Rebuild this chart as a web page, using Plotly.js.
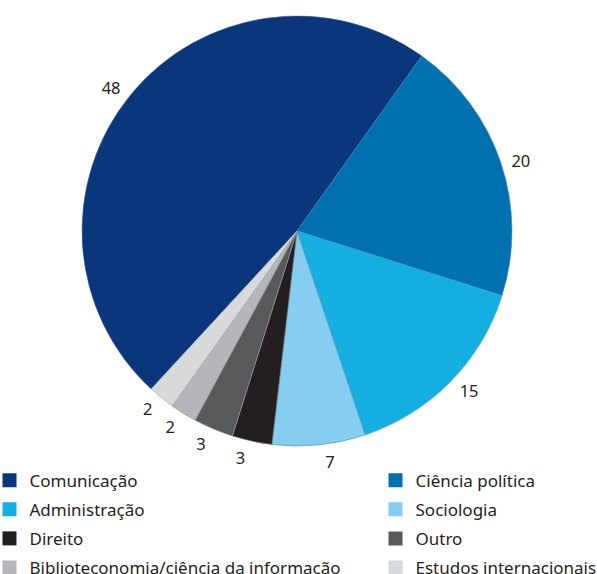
<!DOCTYPE html>
<html>
<head>
<meta charset="utf-8">
<script src="https://cdn.plot.ly/plotly-3.0.1.min.js"></script>
<style>html,body{margin:0;padding:0;background:#fff;}#chart{width:597px;height:574px;}</style>
</head>
<body>
<div id="chart"></div>
<script>
const categories = ["Comunicação", "Ciência política", "Administração", "Sociologia", "Direito", "Outro", "Biblioteconomia/ciência da informação", "Estudos internacionais"];
const values = [48, 20, 15, 7, 3, 3, 2, 2];
const colors = ["#0a367b", "#0070ae", "#14aee0", "#86ceef", "#231f20", "#58595b", "#b5b6b9", "#d8d9da"];
const lineColors = ["#3a5f99", "#3a8fc8", "#3a9fd0", "#3a8fc8", "#888888", "#999999", "#888888", "#aaaaaa"];
// which value labels each label layer shows (split so small-slice labels never collide)
const labelLayerA = [true, true, true, true, false, true, false, true];
const labelLayerB = [false, false, false, false, true, false, true, false];

const FONT = "Noto Sans, sans-serif";
const ROT = -137.3;
const pieDomain = {x: [0.1374, 0.8576], y: [0.2230, 0.9721]};
const labelDomain = {x: [0.12898, 0.86600], y: [0.21429, 0.98084]};

const mainPie = {
  type: "pie",
  labels: categories,
  values: values,
  sort: false,
  direction: "clockwise",
  rotation: ROT,
  marker: {colors: colors, line: {color: lineColors, width: 0.6}},
  textinfo: "none",
  showlegend: false,
  hoverinfo: "label+value",
  domain: pieDomain
};

function labelLayer(mask) {
  return {
    type: "pie",
    labels: categories,
    values: values,
    sort: false,
    direction: "clockwise",
    rotation: ROT,
    marker: {colors: categories.map(() => "rgba(0,0,0,0)"), line: {width: 0}},
    textinfo: "value",
    textposition: mask.map(m => m ? "outside" : "none"),
    outsidetextfont: {family: FONT, size: 16.5, color: "#231f20"},
    showlegend: false,
    hoverinfo: "skip",
    domain: labelDomain
  };
}

const legendTraces = categories.map((c, i) => ({
  type: "scatter",
  mode: "markers",
  x: [null],
  y: [null],
  name: c,
  legendgroup: "g" + i,
  legend: i % 2 === 0 ? "legend" : "legend2",
  marker: {symbol: "square", size: 14, color: colors[i], line: {width: 0}},
  hoverinfo: "skip"
}));

const legendCommon = {
  orientation: "v",
  yanchor: "top",
  xanchor: "left",
  font: {family: FONT, size: 17, color: "#231f20"},
  traceorder: "grouped",
  tracegroupgap: 4,
  bgcolor: "rgba(0,0,0,0)",
  itemclick: false
};

const layout = {
  width: 597,
  height: 574,
  margin: {l: 0, r: 0, t: 0, b: 0, autoexpand: false},
  paper_bgcolor: "#ffffff",
  plot_bgcolor: "rgba(0,0,0,0)",
  showlegend: true,
  font: {family: FONT, color: "#231f20"},
  xaxis: {visible: false},
  yaxis: {visible: false},
  legend: Object.assign({}, legendCommon, {x: -0.0176, y: 0.194}),
  legend2: Object.assign({}, legendCommon, {x: 0.629, y: 0.194})
};

Plotly.newPlot("chart", [mainPie, labelLayer(labelLayerA), labelLayer(labelLayerB)].concat(legendTraces), layout, {staticPlot: true, displayModeBar: false});
</script>
</body>
</html>
